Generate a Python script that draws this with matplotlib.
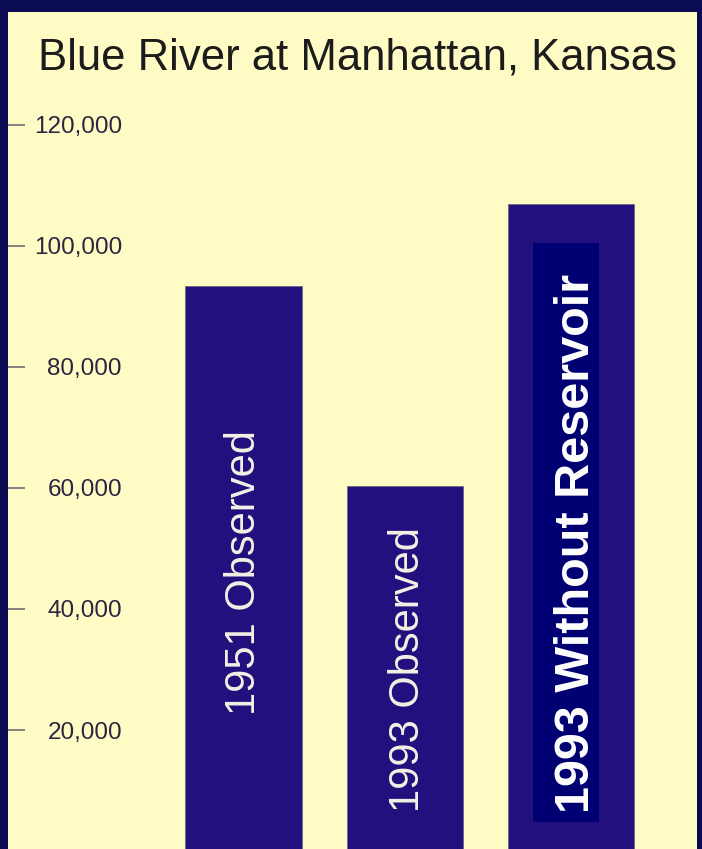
import matplotlib
matplotlib.use("Agg")
import matplotlib.pyplot as plt
from matplotlib.patches import Rectangle

# Data
categories = ["1951 Observed", "1993 Observed", "1993 Without Reservoir"]
values = [93400, 60300, 107000]
yticks = [20000, 40000, 60000, 80000, 100000, 120000]
ytick_labels = ["20,000", "40,000", "60,000", "80,000", "100,000", "120,000"]
title = "Blue River at Manhattan, Kansas"

W, H = 702, 849
fig = plt.figure(figsize=(W / 100, H / 100), dpi=100)
fig.patch.set_facecolor("#0b0b52")

# yellow panel
fig.patches.append(Rectangle((8 / W, 0), (697 - 8) / W, (H - 12) / H,
                             transform=fig.transFigure, facecolor="#fefcc4",
                             edgecolor="none", zorder=-5))

ax = fig.add_axes([8 / W, (H - 851) / H, 689 / W, 726 / H])
ax.set_facecolor("none")
ax.set_zorder(2)
for s in ax.spines.values():
    s.set_visible(False)

positions = [0.015, 1, 2.01]
widths = [0.713, 0.713, 0.768]
ax.bar(positions, values, width=widths, color="#22107e", edgecolor="#6a6a80",
       linewidth=0.6, zorder=2)

ax.set_xlim(-1.42, 2.78)
ax.set_ylim(0, 120000)
ax.set_xticks([])
ax.set_yticks(yticks)
ax.set_yticklabels(ytick_labels, family="Liberation Sans",
                   fontsize=17.5, color="#2b2540")
ax.tick_params(axis="y", direction="in", length=12, width=1.2, color="#707078",
               pad=-82)

# label background box for third bar
ax.add_patch(Rectangle((positions[2] - 0.23, 4800), 0.40, 95700,
                       facecolor="#000072", edgecolor="none", zorder=3))

ax.text(positions[0] + 0.005, 46000, categories[0], rotation=90, ha="center", va="center",
        color="#f4f0e4", fontsize=30, family="Liberation Sans", zorder=4)
ax.text(positions[1] + 0.02, 30000, categories[1], rotation=90, ha="center", va="center",
        color="#f4f0e4", fontsize=30, family="Liberation Sans", zorder=4)
ax.text(positions[2] + 0.035, 50800, categories[2], rotation=90, ha="center", va="center",
        color="white", fontsize=35, fontweight="bold", family="Liberation Sans", zorder=4)

fig.text(38 / W, 1 - 58 / H, title, ha="left", va="center", fontsize=31.4,
         family="Liberation Sans", color="#1c1c1c")

fig.savefig("out.png", dpi=100, facecolor=fig.get_facecolor())
